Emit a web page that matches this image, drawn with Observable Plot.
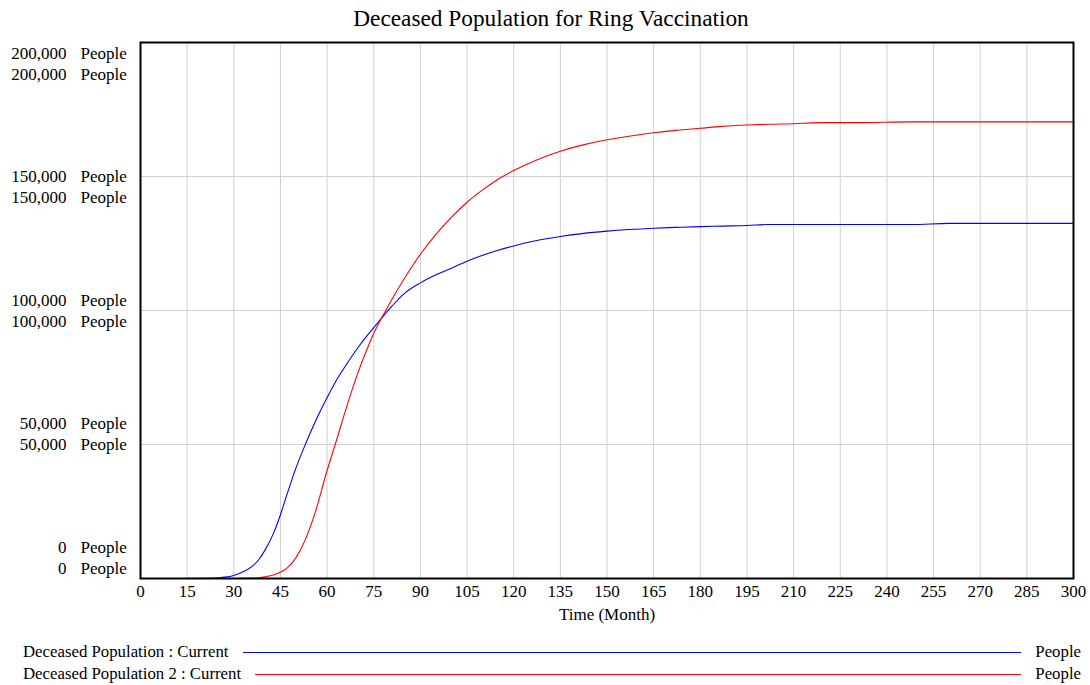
<!DOCTYPE html>
<html>
<head>
<meta charset="utf-8">
<script src="https://cdn.jsdelivr.net/npm/d3@7"></script>
<script src="https://cdn.jsdelivr.net/npm/@observablehq/plot@0.6"></script>
<style>
  body { margin: 0; background: #fff; font-family: "Liberation Serif", "Times New Roman", serif; color: #000; }
  #wrap { position: relative; width: 1090px; height: 685px; overflow: hidden; }
  #title { height: 36px; line-height: 36px; font-size: 23.3px; text-align: center; padding-left: 12px; white-space: nowrap; }
  #chart svg { display: block; }
  .row { position: absolute; left: 23px; width: 1058px; height: 22px; display: flex; align-items: center; font-size: 16.8px; white-space: nowrap; }
  .row .ln { flex: 1; height: 1px; margin: 0 14px; }
</style>
</head>
<body>
<div id="wrap">
  <div id="title"></div>
  <div id="chart"></div>
  <div id="legend"></div>
</div>
<script>
const titleText = "Deceased Population for Ring Vaccination";
const xLabel = "Time (Month)";
const unitLabel = "People";
const seriesNames = ["Deceased Population : Current", "Deceased Population 2 : Current"];
const seriesColors = ["#0000ff", "#ff0000"];
const xTicks = [0,15,30,45,60,75,90,105,120,135,150,165,180,195,210,225,240,255,270,285,300];
const yTicks = [0, 50000, 100000, 150000, 200000];

const time = [0,10,20,25,28,30,33,36,38,40,43,45,47,50,53,56,60,63,66,70,73,75,78,81,85,90,95,100,105,110,115,120,127,135,142,150,157,165,172,180,187,195,202,210,218,230,248,260,300];
const deceased1 = [0,0,100,300,600,1100,2500,4600,7000,10500,17500,23800,31000,41300,50000,58000,67500,74000,79500,86300,90800,93600,97800,101800,106500,110300,113300,115800,118400,120600,122500,124100,126000,127600,128700,129600,130200,130700,131000,131300,131500,131700,132100,132100,132100,132100,132100,132500,132500];
const deceased2 = [0,0,0,0,0,0,50,150,300,600,1400,2400,3800,7800,14500,24000,40300,51500,63000,77000,86000,91500,98200,104500,112200,121000,128400,134800,140400,145000,149000,152200,156000,159400,161700,163700,165000,166300,167200,168000,168700,169200,169500,169700,170100,170100,170400,170400,170400];

document.getElementById("title").textContent = titleText;

const data = [];
time.forEach((t, i) => {
  data.push({time: t, value: deceased1[i], series: seriesNames[0]});
  data.push({time: t, value: deceased2[i], series: seriesNames[1]});
});

const fmt = d3.format(",");
const labelMarks = [];
yTicks.forEach((v, i) => {
  [-31 + 10.5 * i, -10 + 10.5 * i].forEach(dy => {
    labelMarks.push(Plot.text([v], {y: d => d, text: d => fmt(d), frameAnchor: "left", dx: -74, dy, textAnchor: "end", fontSize: 17}));
    labelMarks.push(Plot.text([v], {y: d => d, text: () => unitLabel, frameAnchor: "left", dx: -60, dy, textAnchor: "start", fontSize: 17}));
  });
});

const chart = Plot.plot({
  width: 1090,
  height: 600,
  marginTop: 6,
  marginBottom: 58,
  marginLeft: 140,
  marginRight: 17,
  style: {fontFamily: "Liberation Serif, Times New Roman, serif", fontSize: "17px", background: "#fff", color: "#000"},
  x: {domain: [0, 300]},
  y: {domain: [0, 200000]},
  color: {domain: seriesNames, range: seriesColors},
  marks: [
    Plot.gridX(xTicks, {stroke: "#d0d0d0", strokeOpacity: 1, strokeWidth: 1}),
    Plot.gridY(yTicks, {stroke: "#d0d0d0", strokeOpacity: 1, strokeWidth: 1}),
    Plot.line(data, {x: "time", y: "value", z: "series", stroke: "series", strokeWidth: 1.1, curve: "monotone-x"}),
    Plot.frame({stroke: "#000", strokeWidth: 2}),
    Plot.axisX({ticks: xTicks, tickSize: 0, tickPadding: 6, tickFormat: d => String(d), label: xLabel, labelAnchor: "center", labelArrow: "none", labelOffset: 41, fontSize: 17}),
    Plot.axisY({ticks: [], label: null}),
    ...labelMarks
  ]
});
document.getElementById("chart").appendChild(chart);

const legend = document.getElementById("legend");
seriesNames.forEach((name, i) => {
  const row = document.createElement("div");
  row.className = "row";
  row.style.top = (641 + 22 * i) + "px";
  const a = document.createElement("span"); a.textContent = name;
  const l = document.createElement("span"); l.className = "ln"; l.style.background = seriesColors[i];
  const b = document.createElement("span"); b.textContent = unitLabel;
  row.append(a, l, b);
  legend.appendChild(row);
});
</script>
</body>
</html>
